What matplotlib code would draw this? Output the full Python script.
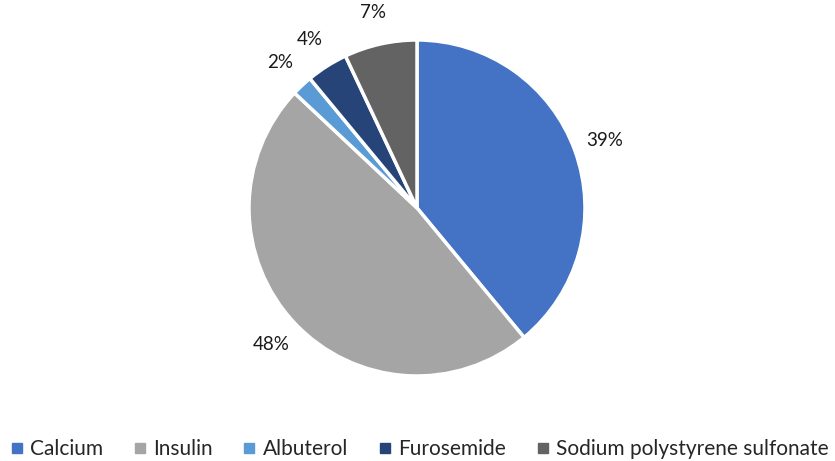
import matplotlib.pyplot as plt
from matplotlib.lines import Line2D

plt.rcParams['font.family'] = ['Lato', 'DejaVu Sans']

drugs = ["Calcium", "Insulin", "Albuterol", "Furosemide", "Sodium polystyrene sulfonate"]
shares = [39, 48, 2, 4, 7]
colors = ["#4472C4", "#A5A5A5", "#5B9BD5", "#264478", "#636363"]

fig = plt.figure(figsize=(8.35, 4.61), dpi=100)
ax = fig.add_axes([0.2982, 0.1844, 0.4024, 0.7289])

ax.pie(shares, colors=colors, startangle=90, counterclock=False,
       autopct='%1.0f%%', pctdistance=1.19, radius=1,
       wedgeprops=dict(edgecolor='white', linewidth=2.5),
       textprops=dict(fontsize=13.5, color='#1a1a1a'))
ax.set_xlim(-1, 1)
ax.set_ylim(-1, 1)
ax.set_aspect('equal')

handles = [Line2D([], [], marker='s', linestyle='none', markersize=7,
                  markerfacecolor=c, markeredgecolor=c) for c in colors]
fig.legend(handles, drugs, loc='center', bbox_to_anchor=(0.5, 0.026), ncol=5,
           frameon=False, fontsize=15, handletextpad=0.15, columnspacing=1.25,
           handlelength=1.0, labelcolor='#262626')

fig.savefig("out.png", dpi=100)
